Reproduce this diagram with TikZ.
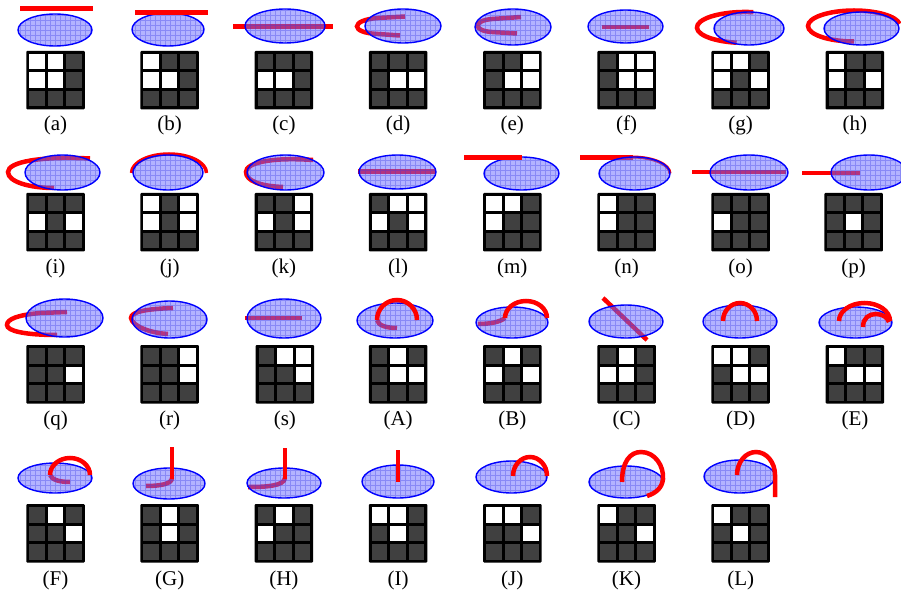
\documentclass[tikz,border=0pt]{standalone}
\usepackage{fontspec}
\setmainfont{Liberation Serif}
\definecolor{cellgray}{RGB}{64,64,64}
\definecolor{surfc}{RGB}{105,105,255}
\definecolor{gridc}{RGB}{60,60,230}
\tikzset{
  rd/.style={draw=red, line width=4.5pt},
  lab/.style={font=\fontsize{21}{21}\selectfont, inner sep=0pt}
}
\newcommand\mysurf[4]{%
  \begin{scope}
    \clip (#1,#2) ellipse [x radius=#3, y radius=#4];
    \fill[surfc, fill opacity=0.5] (#1-#3,#2-#4) rectangle (#1+#3,#2+#4);
    \draw[gridc, line width=0.5pt, opacity=0.35, step=5pt] (#1-#3-1,#2-#4-1) grid (#1+#3+1,#2+#4+1);
  \end{scope}
  \draw[blue, line width=1.4pt] (#1,#2) ellipse [x radius=#3, y radius=#4];
}
\newcommand\mygrid[3]{%
  \fill[black, rounded corners=1pt] (#1-29.25,#2) rectangle ++(58.5,58.5);
  \foreach \rr in {0,1,2}{\foreach \cc in {0,1,2}{%
    \fill[cellgray] ({#1-26.25+\cc*18.5},{#2+3+\rr*18.5}) rectangle ++(15.5,15.5);}}
  \foreach \rr/\cc in {#3}{%
    \fill[white] ({#1-26.25+\cc*18.5},{#2+3+\rr*18.5}) rectangle ++(15.5,15.5);}
}
\begin{document}
\begin{tikzpicture}[x=1pt,y=-1pt]
\useasboundingbox (0,0) rectangle (901,593);
\clip (0,0) rectangle (901,593);
\fill[white] (0,0) rectangle (901,593);
% ---------------- Row 1 ----------------
% (a)
\draw[rd] (20,8.3) -- (93,8.3);
\mysurf{55}{30}{37}{16}
\mygrid{55.5}{51}{0/0,0/1,1/0,1/1}
\node[lab] (la) at (55.5,125) {(a)};
% (b)
\mysurf{168}{29.5}{36}{16.5}
\draw[rd] (135,12.3) -- (208,12.3);
\mygrid{169.7}{51}{0/0,1/0,1/1}
\node[lab] (lb) at (169.7,125) {(b)};
% (c)
\draw[rd] (233,26.7) -- (333,26.7);
\mysurf{285}{26}{40}{17}
\mygrid{283.9}{51}{1/0,1/1}
\node[lab] (lc) at (283.9,125) {(c)};
% (d)
\draw[rd] (405,16.5) -- (378,18) .. controls (350,20) and (350,33) .. (378,34) -- (400,35.5);
\mysurf{403}{26}{38}{17}
\mygrid{398.1}{51}{1/1,1/2}
\node[lab] (ld) at (398.1,125) {(d)};
% (e)
\draw[rd] (521,17) -- (492,19) .. controls (473,20.5) and (473,31) .. (492,32) -- (517,33.5);
\mysurf{513}{27}{38}{18}
\mygrid{512.3}{51}{0/2,1/1,1/2}
\node[lab] (le) at (512.3,125) {(e)};
% (f)
\draw[rd] (602,27) -- (649,27);
\mysurf{625.5}{26.5}{37.5}{16.5}
\mygrid{626.5}{51}{0/1,0/2,1/1,1/2}
\node[lab] (lf) at (626.5,125) {(f)};
% (g)
\draw[rd] (753.3,12.2) arc[start angle=280, end angle=100, x radius=48, y radius=15.5];
\mysurf{749}{28.5}{35}{16.5}
\mygrid{740.7}{51}{0/0,0/1,1/0,1/2}
\node[lab] (lg) at (740.7,125) {(g)};
% (h)
\draw[rd] (854,41.5) arc[start angle=90, end angle=352, x radius=46, y radius=15.5];
\mysurf{861.5}{28.5}{37.5}{16.5}
\mygrid{854.9}{51}{0/0,1/0,1/2}
\node[lab] (lh) at (854.9,125) {(h)};
% ---------------- Row 2 ----------------
% (i)
\draw[rd] (90,158.5) .. controls (40,156) and (8,162) .. (8,172) .. controls (8,182) and (30,188) .. (54,188);
\mysurf{62.5}{172.5}{37.5}{17.5}
\mygrid{55.5}{193}{1/0,1/2}
\node[lab] (li) at (55.5,268) {(i)};
% (j)
\draw[rd, line width=3.5pt] (131.5,173) arc[start angle=180, end angle=360, x radius=37.5, y radius=19];
\mysurf{168}{172.5}{35}{17.5}
\mygrid{169.7}{193}{0/0,0/2,1/0,1/2}
\node[lab] (lj) at (169.7,268) {(j)};
% (k)
\draw[rd] (313,160) .. controls (270,157) and (246,163) .. (246,172) .. controls (246,181) and (260,186) .. (283,187);
\mysurf{285.5}{172.5}{38.5}{17.5}
\mygrid{283.9}{193}{0/2,1/0,1/2}
\node[lab] (lk) at (283.9,268) {(k)};
% (l)
\draw[rd] (358,171.7) -- (436,171.7);
\mysurf{397.5}{172}{38.5}{17}
\mygrid{398.1}{193}{0/1,0/2,1/0,1/2}
\node[lab] (ll) at (398.1,268) {(l)};
% (m)
\mysurf{521.5}{173.5}{37.5}{16.5}
\draw[rd] (464,157.3) -- (522,157.3);
\mygrid{512.3}{193}{0/0,0/1,1/0}
\node[lab] (lm) at (512.3,268) {(m)};
% (n)
\draw[rd] (580,157.5) -- (633,157.5);
\draw[rd, line width=3pt] (632,157) arc[start angle=270, end angle=360, x radius=38, y radius=16.5];
\mysurf{634.5}{173.5}{35.5}{16.5}
\mygrid{626.5}{193}{0/0,1/0}
\node[lab] (ln) at (626.5,268) {(n)};
% (o)
\draw[rd] (692,172) -- (786,172);
\mysurf{749}{172.5}{39}{17.5}
\mygrid{740.7}{193}{1/0}
\node[lab] (lo) at (740.7,268) {(o)};
% (p)
\draw[rd] (802,173) -- (860,173);
\mysurf{869}{172.5}{38}{17.5}
\mygrid{853.5}{193}{1/1}
\node[lab] (lp) at (853.5,268) {(p)};
% ---------------- Row 3 ----------------
% (q)
\draw[rd] (67,312) -- (40,313) .. controls (18,315) and (7,319) .. (7,325) .. controls (7,331) and (25,335) .. (57,335);
\mysurf{64.5}{318}{38.5}{19}
\mygrid{55.5}{345}{1/2}
\node[lab] (lq) at (55.5,420) {(q)};
% (r)
\draw[rd] (173,308) .. controls (145,309) and (131,312) .. (131,318) .. controls (132,326) and (150,333) .. (168,334);
\mysurf{169.5}{319.5}{37.5}{18.5}
\mygrid{169.7}{345}{0/2,1/2}
\node[lab] (lr) at (169.7,420) {(r)};
% (s)
\draw[rd] (245,318) -- (302,318);
\mysurf{284}{318.5}{37}{19.5}
\mygrid{284.9}{345}{0/1,0/2,1/2}
\node[lab] (ls) at (284.9,420) {(s)};
% (A)
\draw[rd] (397,328) .. controls (388,328) and (378,326) .. (377,320);
\mysurf{395}{320.5}{38}{17.5}
\draw[rd] (377,320) arc[start angle=180, end angle=360, radius=20];
\mygrid{398.1}{345}{0/1,1/1,1/2}
\node[lab] (lA) at (398.1,420) {(A)};
% (B)
\draw[rd] (478,324) .. controls (490,324) and (500,322) .. (505,318);
\mysurf{512}{322.5}{36}{15.5}
\draw[rd] (505,318) arc[start angle=180, end angle=360, x radius=21, y radius=17];
\mygrid{512.3}{345}{0/1,1/0,1/2}
\node[lab] (lB) at (512.3,420) {(B)};
% (C)
\draw[rd] (603,298) -- (647,340);
\mysurf{626}{321.5}{37}{16.5}
\mygrid{626.5}{345}{0/1,1/0,1/1}
\node[lab] (lC) at (626.5,420) {(C)};
% (D)
\mysurf{740}{321.5}{37}{16.5}
\draw[rd] (723,321) arc[start angle=180, end angle=360, x radius=17, y radius=18];
\mygrid{740.7}{345}{0/0,0/1,1/1,1/2}
\node[lab] (lD) at (740.7,420) {(D)};
% (E)
\mysurf{855.5}{322.5}{36.5}{15.5}
\draw[rd] (839,321) arc[start angle=180, end angle=360, x radius=25.5, y radius=18];
\draw[rd] (863,327) .. controls (863,318) and (869,314) .. (876,314) .. controls (883,314) and (888,318) .. (889,322);
\mygrid{854.9}{345}{0/0,1/1,1/2}
\node[lab] (lE) at (854.9,420) {(E)};
% ---------------- Row 4 ----------------
% (F)
\draw[rd] (70,482) .. controls (60,482) and (52,480) .. (50,475);
\mysurf{55}{478}{37}{15}
\draw[rd] (50,475) arc[start angle=180, end angle=360, x radius=20, y radius=17];
\mygrid{55.5}{504}{0/1,1/2}
\node[lab] (lF) at (55.5,580) {(F)};
% (G)
\draw[rd] (172,478) .. controls (172,484) and (160,486) .. (146,486);
\mysurf{169}{483.5}{36}{15.5}
\draw[rd] (172,447) -- (172,479);
\mygrid{169.7}{504}{0/1,1/1}
\node[lab] (lG) at (169.7,580) {(G)};
% (H)
\draw[rd] (285,478) .. controls (284,486) and (266,487) .. (248,487);
\mysurf{284}{483}{37}{15}
\draw[rd] (285,448) -- (285,479);
\mygrid{283.9}{504}{0/1,1/0}
\node[lab] (lH) at (283.9,580) {(H)};
% (I)
\mysurf{398}{481.5}{36}{16.5}
\draw[rd] (398,450) -- (398,482);
\mygrid{398.1}{504}{0/0,0/1,1/1}
\node[lab] (lI) at (398.1,580) {(I)};
% (J)
\mysurf{511.5}{477}{35.5}{16}
\draw[rd] (513,476) arc[start angle=180, end angle=360, x radius=17, y radius=19];
\mygrid{512.3}{504}{0/0,0/1,1/2}
\node[lab] (lJ) at (512.3,580) {(J)};
% (K)
\mysurf{626}{482}{37}{16}
\draw[rd] (622,482) .. controls (622,462) and (630,452) .. (641,452) .. controls (655,452) and (664,466) .. (663,479) .. controls (662,488) and (656,493) .. (647,496);
\mygrid{626.5}{504}{0/0,1/2}
\node[lab] (lK) at (626.5,580) {(K)};
% (L)
\mysurf{739.5}{476.5}{35.5}{16.5}
\draw[rd] (737,475) arc[start angle=180, end angle=360, x radius=19, y radius=23] -- (775,497);
\mygrid{740.7}{504}{0/0,1/1}
\node[lab] (lL) at (740.7,580) {(L)};
\end{tikzpicture}
\end{document}
